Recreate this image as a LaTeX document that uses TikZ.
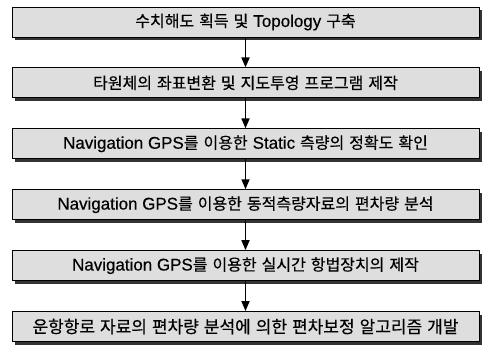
\documentclass[tikz,border=0pt]{standalone}
\usepackage{fontspec}
\setmainfont{Noto Sans CJK KR}[FakeBold=0.4]
\newfontfamily\lat{Liberation Sans}[Scale=1.06,FakeBold=0.4]
\usetikzlibrary{positioning,chains,shadows,arrows.meta}
\definecolor{boxgray}{RGB}{222,222,222}
\newcommand{\widespace}{\spaceskip=5pt\relax}
\newcommand{\en}[1]{{\lat\spaceskip=0pt\relax #1}}

\begin{document}
\begin{tikzpicture}[thick,
  stepbox/.style={draw=black,line width=0.9pt,fill=boxgray,
    minimum width=467pt,minimum height=30pt,inner sep=0pt,
    font=\fontsize{16pt}{18pt}\selectfont,
    execute at begin node=\widespace,
    drop shadow={shadow xshift=2.5pt,shadow yshift=-3pt,fill=black!80,opacity=1}},
  flow/.style={-{Triangle[length=10pt,width=8pt]},line width=1.7pt}
]
\useasboundingbox (0,0) rectangle (484pt,-348pt);
% the steps
\begin{scope}[shift={(245.5pt,-22pt)},start chain=going below,node distance=30pt]
  \node[stepbox,on chain] (s1) {수치해도 획득 및 \en{Topology} 구축};
  \node[stepbox,on chain] (s2) {타원체의 좌표변환 및 지도투영 프로그램 제작};
  \node[stepbox,on chain] (s3) {\en{Navigation GPS}를 이용한 \en{Static} 측량의 정확도 확인};
  \node[stepbox,on chain] (s4) {\en{Navigation GPS}를 이용한 동적측량자료의 편차량 분석};
  \node[stepbox,on chain] (s5) {\en{Navigation GPS}를 이용한 실시간 항법장치의 제작};
  \node[stepbox,on chain,font=\fontsize{17pt}{19pt}\selectfont] (s6) {운항항로 자료의 편차량 분석에 의한 편차보정 알고리즘 개발};
\end{scope}

% the arrows
\draw[flow] (s1) -- (s2);
\draw[flow] (s2) -- (s3);
\draw[flow] (s3) -- (s4);
\draw[flow] (s4) -- (s5);
\draw[flow] (s5) -- (s6);
\end{tikzpicture}
\end{document}
